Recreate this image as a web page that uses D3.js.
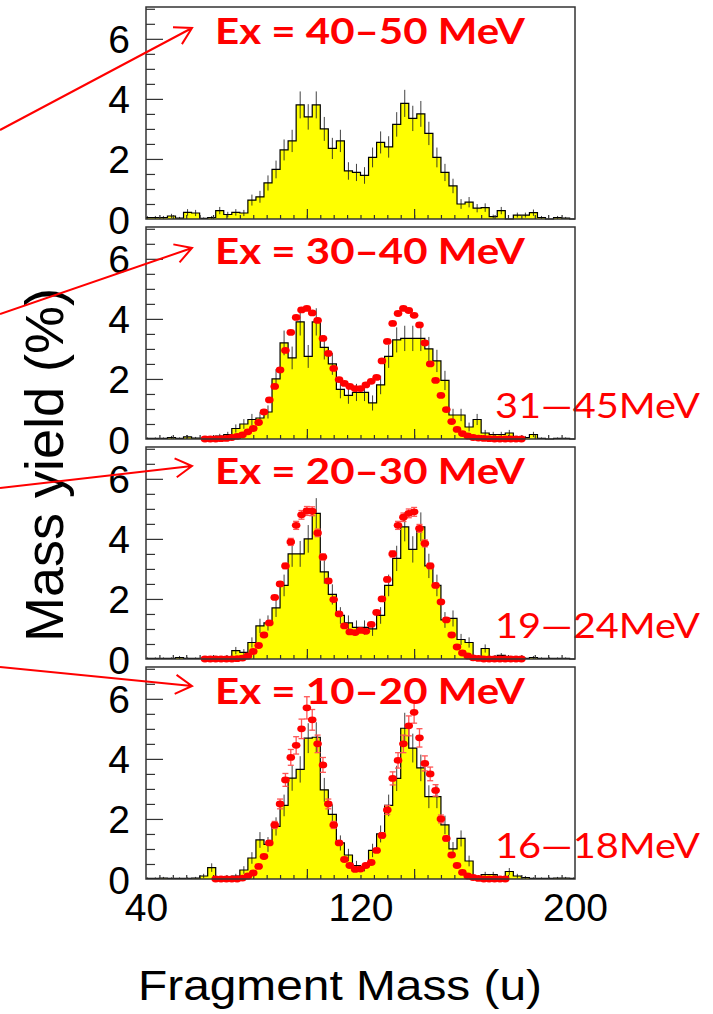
<!DOCTYPE html>
<html><head><meta charset="utf-8">
<script src="https://cdn.jsdelivr.net/npm/d3@7"></script>
<style>body{margin:0;background:#fff}svg{display:block}</style>
</head><body>
<svg id="c" width="713" height="1014"></svg>
<script>
// ---------------- DATA ----------------
const binEdges = [39,42,45,48,51,54,57,60,63,66,69,72,75,78,81,84,87,90,93,96,99,102,105,108,111,114,117,120,123,126,129,132,135,138,141,144,147,150,153,156,159,162,165,168,171,174,177,180,183,186,189,192,195,198];
const binWidth = 3;

const hist40_50 = [0.05,0.05,0.05,0.1,0.03,0.22,0.2,0.02,0.05,0.28,0.15,0.22,0.2,0.63,0.74,1.2,1.65,2.3,2.6,3.8,3.4,3.8,3.0,2.35,2.6,1.6,1.55,1.45,2.05,2.55,2.4,3.15,3.85,3.35,3.5,2.85,2.05,1.55,1.1,0.5,0.56,0.36,0.38,0.08,0.28,0.0,0.13,0.13,0.21,0.05,0.0,0.05,0.03,0.0];
const hist30_40 = [0.02,0.02,0.02,0.05,0.02,0.07,0.03,0.02,0.03,0.1,0.15,0.35,0.5,0.65,0.7,0.9,2.0,3.2,2.7,3.9,2.75,3.9,3.05,2.5,1.65,1.45,1.55,1.55,1.2,1.8,2.75,3.3,3.35,3.35,3.35,3.0,2.6,1.95,0.8,0.8,0.4,0.65,0.2,0.15,0.15,0.2,0.05,0.05,0.15,0.02,0.0,0.02,0.02,0.0];
const hist20_30 = [0.02,0.02,0.02,0.02,0.05,0.02,0.02,0.02,0.02,0.05,0.05,0.28,0.22,0.55,1.1,1.2,1.7,2.45,3.5,3.5,4.0,4.85,2.9,2.15,1.45,1.2,1.05,1.05,1.0,1.45,2.45,3.35,4.4,3.65,4.4,3.1,2.45,1.3,1.35,0.65,0.55,0.05,0.35,0.05,0.12,0.03,0.02,0.02,0.05,0.02,0.02,0.02,0.02,0.0];
const hist10_20 = [0.02,0.02,0.03,0.02,0.02,0.02,0.03,0.1,0.38,0.05,0.05,0.1,0.3,0.7,1.3,1.15,1.75,2.45,3.36,3.65,4.69,4.72,2.97,2.15,1.2,0.8,0.45,0.4,0.95,1.5,2.45,3.35,5.02,4.36,3.7,2.74,2.74,1.8,1.0,1.35,0.6,0.05,0.15,0.15,0.05,0.25,0.1,0.05,0.02,0.02,0.02,0.03,0.03,0.02];

const modelMass = [62,64,66,68,70,72,74,76,78,80,82,84,86,88,90,92,94,96,98,100,102,104,106,108,110,112,114,116,118,120,122,124,126,128,130,132,134,136,138,140,142,144,146,148,150,152,154,156,158,160,162,164,166,168,170,172,174,176,178,180];
const model31_45 = [0,0,0,0.01,0.02,0.05,0.09,0.14,0.24,0.35,0.55,0.9,1.3,1.75,2.3,2.95,3.55,4.05,4.3,4.35,4.2,3.95,3.35,2.85,2.35,1.98,1.85,1.75,1.68,1.68,1.8,1.92,2.05,2.6,3.25,3.85,4.18,4.35,4.28,4.12,3.8,3.2,2.5,1.95,1.45,0.98,0.58,0.32,0.18,0.1,0.05,0.03,0.02,0.01,0,0,0,0,0,0];
const model19_24 = [0,0,0,0,0,0,0.01,0.03,0.1,0.25,0.45,0.8,1.2,2.05,2.5,3.1,3.9,4.45,4.8,4.93,4.92,4.2,3.4,2.6,1.98,1.5,1.1,0.9,0.88,0.95,0.92,1.15,1.55,2.0,2.65,3.5,4.45,4.72,4.85,4.9,4.35,3.85,3.1,2.45,1.9,1.3,0.8,0.4,0.2,0.1,0.04,0.02,0,0,0,0,0,0,0,0];
const model16_18 = [null,null,0,0,0,0,0,0.03,0.1,0.2,0.42,0.75,1.2,1.8,2.5,3.3,4.05,4.45,5.0,5.7,5.3,4.5,3.8,2.5,1.8,1.2,0.65,0.45,0.32,0.33,0.45,0.55,0.95,1.45,2.3,3.35,3.95,4.5,5.1,5.55,4.7,3.85,3.5,2.95,2.0,1.35,0.8,0.45,0.22,0.1,0.05,0.02,0,0,0,0,0,null,null,null];

const panelTitles = ["Ex = 40\u201350 MeV","Ex = 30\u201340 MeV","Ex = 20\u201330 MeV","Ex = 10\u201320 MeV"];
const modelLabels = [null,"31\u201445MeV","19\u201424MeV","16\u201418MeV"];
const histSeries = [hist40_50,hist30_40,hist20_30,hist10_20];
const modelSeries = [null,model31_45,model19_24,model16_18];
const modelRelErr = [0,0,0.03,0.065];

const yTickLabels = [0,2,4,6];
const xTickLabels = [40,120,200];
const xLongTicks = [100,140];
const xDomain = [40,200];
const yDomain = [0,7.06];

// ---------------- LAYOUT ----------------
const svg = d3.select("#c");
const L = 146, R = 575;
const panelTops = [7,227,447,667];
const panelH = 212;
const RED = "#ff0000";
const x = d3.scaleLinear().domain(xDomain).range([L,R]);

const minorX = d3.range(45,200,5);
const minorY = d3.range(0.5,7.01,0.5).filter(v=>v%2!==0);

panelTops.forEach((top,pi)=>{
  const bottom = top+panelH;
  const y = d3.scaleLinear().domain(yDomain).range([bottom,top]);
  const g = svg.append("g");
  const vals = histSeries[pi];

  const pts = binEdges.map((e,i)=>({x:Math.max(e,xDomain[0]), v:vals[i]}));
  pts.push({x:xDomain[1], v:vals[vals.length-1]});

  g.append("path").datum(pts)
    .attr("d", d3.area().x(d=>x(d.x)).y0(y(0)).y1(d=>y(d.v)).curve(d3.curveStepAfter))
    .attr("fill","#ffff00");

  // error bars of histogram
  g.append("g").selectAll("line").data(binEdges.map((e,i)=>({c:e+binWidth/2, v:vals[i]})).filter(d=>d.c>xDomain[0]&&d.c<xDomain[1]))
    .join("line")
    .attr("x1",d=>x(d.c)).attr("x2",d=>x(d.c))
    .attr("y1",d=>y(d.v+0.23*Math.sqrt(d.v)))
    .attr("y2",d=>y(Math.max(0,d.v-0.23*Math.sqrt(d.v))))
    .attr("stroke","#222").attr("stroke-width",1).attr("opacity",0.85);

  g.append("path").datum(pts)
    .attr("d", d3.line().x(d=>x(d.x)).y(d=>y(d.v)).curve(d3.curveStepAfter))
    .attr("fill","none").attr("stroke","#000").attr("stroke-width",1.2);

  // y ticks (inside)
  const gy1 = g.append("g").attr("transform",`translate(${L},0)`)
    .call(d3.axisLeft(y).tickValues(minorY).tickSize(-9).tickFormat(""));
  const gy2 = g.append("g").attr("transform",`translate(${L},0)`)
    .call(d3.axisLeft(y).tickValues(yTickLabels.filter(v=>v>0)).tickSize(-17).tickFormat(""));
  // x ticks (inside)
  const gx1 = g.append("g").attr("transform",`translate(0,${bottom})`)
    .call(d3.axisBottom(x).tickValues(minorX).tickSize(-4).tickFormat(""));
  const gx2 = g.append("g").attr("transform",`translate(0,${bottom})`)
    .call(d3.axisBottom(x).tickValues(xLongTicks).tickSize(-10).tickFormat(""));
  [gy1,gy2,gx1,gx2].forEach(a=>{a.select(".domain").remove(); a.selectAll("line").attr("stroke","#333").attr("stroke-width",1.2);});

  // y tick labels
  const gl = g.append("g").attr("transform",`translate(${L},0)`)
    .call(d3.axisLeft(y).tickValues(yTickLabels).tickSize(0).tickPadding(16).tickFormat(d3.format("d")));
  gl.select(".domain").remove();
  gl.selectAll("text").attr("font-family","'Liberation Sans', Arial, sans-serif")
    .attr("font-size",39).attr("fill","#000").attr("dy","0.36em");

  // model points
  const mod = modelSeries[pi];
  if (mod){
    const md = modelMass.map((m,i)=>({m, v:mod[i]})).filter(d=>d.v!==null);
    const re = modelRelErr[pi];
    if (re>0){
      const eg = g.append("g").attr("stroke","#ff5555").attr("stroke-width",1.3);
      md.filter(d=>d.v>0.3).forEach(d=>{
        const e = re*d.v, cx = x(d.m);
        eg.append("line").attr("x1",cx).attr("x2",cx).attr("y1",y(d.v+e)).attr("y2",y(d.v-e));
        eg.append("line").attr("x1",cx-3).attr("x2",cx+3).attr("y1",y(d.v+e)).attr("y2",y(d.v+e));
        eg.append("line").attr("x1",cx-3).attr("x2",cx+3).attr("y1",y(d.v-e)).attr("y2",y(d.v-e));
      });
    }
    g.append("g").selectAll("ellipse").data(md).join("ellipse")
      .attr("cx",d=>x(d.m)).attr("cy",d=>y(d.v))
      .attr("rx",4.3).attr("ry",3.4).attr("fill",RED);
  }

  // title
  g.append("text").attr("x",215).attr("y",top+36.5)
    .attr("font-family","Lato, 'Open Sans', sans-serif").attr("font-weight",700)
    .attr("font-size",36).attr("fill",RED)
    .attr("textLength",310).attr("lengthAdjust","spacingAndGlyphs")
    .text(panelTitles[pi]);

  if (modelLabels[pi]){
    g.append("text").attr("x",495).attr("y",bottom-21)
      .attr("font-family","Lato, 'Open Sans', sans-serif")
      .attr("font-size",35).attr("fill",RED)
      .attr("textLength",205).attr("lengthAdjust","spacingAndGlyphs")
      .text(modelLabels[pi]);
  }

  // frame
  g.append("rect").attr("x",L).attr("y",top).attr("width",R-L).attr("height",panelH)
    .attr("fill","none").attr("stroke","#333").attr("stroke-width",1.5);

  if (pi===panelTops.length-1){
    const gxl = g.append("g").attr("transform",`translate(0,${bottom})`)
      .call(d3.axisBottom(x).tickValues(xTickLabels).tickSize(0).tickPadding(0).tickFormat(d3.format("d")));
    gxl.select(".domain").remove();
    gxl.selectAll("text").attr("font-family","'Liberation Sans', Arial, sans-serif")
      .attr("font-size",39).attr("fill","#000").attr("y",42).attr("dy",0);
  }
});

// axis titles
svg.append("text").attr("transform","translate(63,465) rotate(-90)")
  .attr("text-anchor","middle").attr("font-family","'Liberation Sans', Arial, sans-serif")
  .attr("font-size",54).attr("fill","#000").text("Mass yield (%)");
svg.append("text").attr("x",340).attr("y",1000)
  .attr("text-anchor","middle").attr("font-family","'Liberation Sans', Arial, sans-serif")
  .attr("font-size",42).attr("fill","#000")
  .attr("textLength",404).attr("lengthAdjust","spacingAndGlyphs")
  .text("Fragment Mass (u)");

// annotation arrows
const arrows = [[0,130,192,28],[0,314,192,248],[0,488,192,466],[0,667,192,686]];
arrows.forEach(([x1,y1,x2,y2])=>{
  const a = Math.atan2(y1-y2,x1-x2), len = 19, sp = 30*Math.PI/180;
  const p = d3.path();
  p.moveTo(x1,y1); p.lineTo(x2,y2);
  p.moveTo(x2+len*Math.cos(a+sp), y2+len*Math.sin(a+sp)); p.lineTo(x2,y2);
  p.lineTo(x2+len*Math.cos(a-sp), y2+len*Math.sin(a-sp));
  svg.append("path").attr("d",p.toString()).attr("fill","none")
    .attr("stroke",RED).attr("stroke-width",2);
});
</script>
</body></html>
